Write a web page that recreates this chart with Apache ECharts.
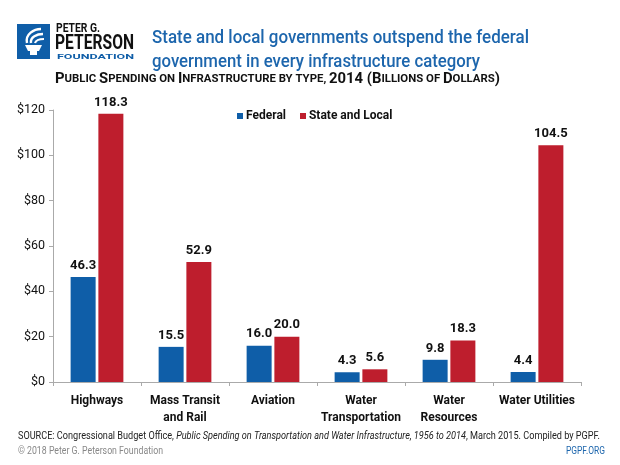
<!DOCTYPE html>
<html><head><meta charset="utf-8">
<script src="https://cdn.jsdelivr.net/npm/echarts@6/dist/echarts.min.js"></script>
<style>html,body{margin:0;padding:0;background:#fff}#c{width:620px;height:465px}</style>
</head><body><div id="c"></div>
<script>
const categories = ['Highways', 'Mass Transit\nand Rail', 'Aviation', 'Water\nTransportation', 'Water\nResources', 'Water Utilities'];
const federal = [46.3, 15.5, 16.0, 4.3, 9.8, 4.4];
const stateLocal = [118.3, 52.9, 20.0, 5.6, 18.3, 104.5];
const yTicks = [0, 20, 40, 60, 80, 100, 120];

const BLUE = '#0f5ea8', RED = '#be1e2d', TITLE_BLUE = '#1d66ad';
const FF = "Roboto, 'Liberation Sans', sans-serif";
const ctx = document.createElement('canvas').getContext('2d');
function w(text, font) { ctx.font = font; return ctx.measureText(text).width; }
function fitText(text, font, x, y, width, fill) {
  return {type: 'text', x: x, y: y, scaleX: width / w(text, font),
    style: {text: text, font: font, fill: fill, verticalAlign: 'top', align: 'left'}};
}
function fitRich(parts, rich, x, y, width) {
  let total = 0, text = '';
  parts.forEach(p => { total += w(p[1], rich[p[0]].font); text += '{' + p[0] + '|' + p[1] + '}'; });
  return {type: 'text', x: x, y: y, scaleX: width / total,
    style: {text: text, rich: rich, verticalAlign: 'top', align: 'left'}};
}

const subRich = {
  b: {font: "bold 15px " + FF, fill: '#111'},
  s: {font: "bold 11.5px " + FF, fill: '#111'}
};
const subParts = [['b','P'],['s','UBLIC '],['b','S'],['s','PENDING ON '],['b','I'],['s','NFRASTRUCTURE BY TYPE, '],['b','2014 (B'],['s','ILLIONS OF '],['b','D'],['s','OLLARS'],['b',')']];
const srcRich = {
  n: {font: "10px " + FF, fill: '#222'},
  i: {font: "italic 10px " + FF, fill: '#222'}
};
const srcParts = [['n','SOURCE: Congressional Budget Office, '],['i','Public Spending on Transportation and Water Infrastructure, 1956 to 2014'],['n',', March 2015. Compiled by PGPF.']];

const chart = echarts.init(document.getElementById('c'), null, {renderer: 'canvas'});
chart.setOption({
  animation: false,
  backgroundColor: '#fff',
  grid: {left: 53, right: 39, top: 110, bottom: 83, containLabel: false},
  legend: {
    data: ['Federal', 'State and Local'], left: 232, top: 105,
    itemWidth: 6, itemHeight: 6, itemGap: 14, icon: 'rect',
    textStyle: {fontFamily: FF, fontWeight: 'bold', fontSize: 12, color: '#111', padding: [0,0,0,-2]}
  },
  xAxis: {
    type: 'category', data: categories,
    axisLine: {lineStyle: {color: '#aaa'}},
    axisTick: {show: true, length: 4, lineStyle: {color: '#aaa'}},
    axisLabel: {fontFamily: FF, fontWeight: 'bold', fontSize: 12, color: '#111', margin: 10, lineHeight: 17, interval: 0}
  },
  yAxis: {
    type: 'value', min: 0, max: 120, interval: 20,
    axisLine: {show: true, lineStyle: {color: '#aaa'}},
    axisTick: {show: true, length: 4, lineStyle: {color: '#aaa'}},
    splitLine: {show: false},
    axisLabel: {fontFamily: FF, fontSize: 12.5, color: '#111', margin: 8,
      formatter: v => yTicks.includes(v) ? '$' + v : ''}
  },
  series: [
    {name: 'Federal', type: 'bar', data: federal, barWidth: 25, barGap: '11%',
     itemStyle: {color: BLUE},
     label: {show: true, position: 'top', distance: 5, formatter: p => p.value.toFixed(1),
       fontFamily: FF, fontWeight: 'bold', fontSize: 13, color: '#111'}},
    {name: 'State and Local', type: 'bar', data: stateLocal, barWidth: 25,
     itemStyle: {color: RED},
     label: {show: true, position: 'top', distance: 5, formatter: p => p.value.toFixed(1),
       fontFamily: FF, fontWeight: 'bold', fontSize: 13, color: '#111'}}
  ],
  graphic: [
    {type: 'rect', shape: {x: 17, y: 24, width: 33, height: 35}, style: {fill: BLUE}},
    {type: 'polygon', shape: {points: [[25,45],[42,45],[39,51],[28,51]]}, style: {fill: '#fff'}},
    {type: 'rect', shape: {x: 30, y: 51, width: 7, height: 4}, style: {fill: '#fff'}},
    {type: 'bezierCurve', shape: {x1: 27, y1: 43, x2: 41, y2: 29, cpx1: 25, cpy1: 34, cpx2: 34, cpy2: 29}, style: {stroke: '#fff', lineWidth: 2.4, fill: null}},
    {type: 'bezierCurve', shape: {x1: 31, y1: 43, x2: 43, y2: 34, cpx1: 30, cpy1: 37, cpx2: 37, cpy2: 34}, style: {stroke: '#fff', lineWidth: 2.4, fill: null}},
    {type: 'bezierCurve', shape: {x1: 35, y1: 43, x2: 44, y2: 39, cpx1: 36, cpy1: 40, cpx2: 40, cpy2: 39}, style: {stroke: '#fff', lineWidth: 2.2, fill: null}},
    fitText('PETER G.', "bold 12px " + FF, 56, 23, 44, '#111'),
    fitText('PETERSON', "bold 20px " + FF, 55, 34, 79, '#111'),
    fitText('FOUNDATION', "bold 7px " + FF, 57, 54, 77, BLUE),
    fitText('State and local governments outspend the federal', "500 19px " + FF, 152, 29, 377, TITLE_BLUE),
    fitText('government in every infrastructure category', "500 19px " + FF, 152, 53, 328, TITLE_BLUE),
    fitRich(subParts, subRich, 55, 72, 445),
    fitRich(srcParts, srcRich, 18, 431, 582),
    fitText('\u00a9 2018 Peter G. Peterson Foundation', "10px " + FF, 18, 446, 145, '#888'),
    fitText('PGPF.ORG', "10.5px " + FF, 566, 446, 39, TITLE_BLUE)
  ]
});
</script></body></html>
